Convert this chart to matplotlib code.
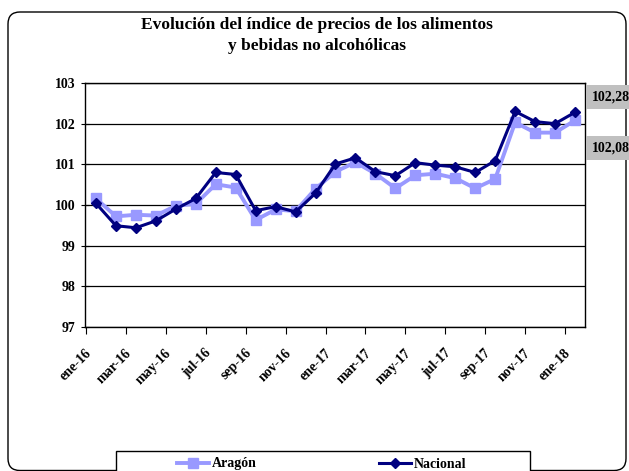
import matplotlib
matplotlib.use("Agg")
import matplotlib.pyplot as plt
from matplotlib.patches import FancyBboxPatch, Rectangle

# Datos (índice, base 2016 = 100)
months = ["ene-16", "feb-16", "mar-16", "abr-16", "may-16", "jun-16", "jul-16", "ago-16",
          "sep-16", "oct-16", "nov-16", "dic-16", "ene-17", "feb-17", "mar-17", "abr-17",
          "may-17", "jun-17", "jul-17", "ago-17", "sep-17", "oct-17", "nov-17", "dic-17",
          "ene-18"]
aragon = [100.16, 99.72, 99.76, 99.74, 99.98, 100.03, 100.51, 100.43, 99.63, 99.89,
          99.85, 100.40, 100.82, 101.05, 100.77, 100.41, 100.73, 100.77, 100.66, 100.41,
          100.64, 102.03, 101.78, 101.78, 102.08]
nacional = [100.04, 99.49, 99.44, 99.61, 99.90, 100.16, 100.80, 100.75, 99.86, 99.96,
            99.83, 100.29, 101.01, 101.16, 100.82, 100.72, 101.04, 100.98, 100.94, 100.80,
            101.09, 102.30, 102.05, 102.00, 102.28]
last_labels = ["102,28", "102,08"]

plt.rcParams['font.family'] = ['Liberation Serif', 'DejaVu Serif']
plt.rcParams['font.weight'] = 'bold'

fig = plt.figure(figsize=(6.29, 4.71), dpi=100)

# marco exterior redondeado
frame = FancyBboxPatch((0.08, 0.005), 6.18, 4.585,
                       boxstyle="round,pad=0,rounding_size=0.12",
                       transform=fig.dpi_scale_trans, facecolor='none',
                       edgecolor='black', linewidth=1.0, zorder=-1)
fig.patches.append(frame)

ax = fig.add_axes([85 / 629, 1 - 327 / 471, 500 / 629, 244 / 471])
ax.set_facecolor('white')
x = list(range(len(months)))

ax.plot(x, aragon, color='#9999FF', linewidth=2.8, marker='s', markersize=6.5,
        label='Aragón', zorder=3)
ax.plot(x, nacional, color='#000080', linewidth=2.2, marker='D', markersize=5,
        label='Nacional', zorder=4)

ax.set_xlim(-0.5, len(months) - 0.5)
ax.set_ylim(97, 103)
ax.set_yticks(range(97, 104))
ax.set_yticklabels([str(v) for v in range(97, 104)], fontsize=10, fontweight='bold')
ax.yaxis.grid(True, color='black', linewidth=0.9)
ax.set_axisbelow(True)

# marcas entre categorías, etiquetas cada dos meses (ancladas algo a la izquierda)
ax.set_xticks([i - 0.5 for i in range(0, len(months), 2)])
ax.set_xticklabels([])
ax.set_xticks([i - 0.55 for i in range(0, len(months), 2)], minor=True)
ax.set_xticklabels([months[i] for i in range(0, len(months), 2)], minor=True,
                   rotation=45, ha='right', rotation_mode='anchor',
                   fontsize=10, fontweight='bold')
ax.tick_params(axis='x', which='major', length=5, color='black')
ax.tick_params(axis='x', which='minor', length=0, pad=14)
ax.tick_params(axis='y', direction='inout', length=6, pad=4)
for s in ax.spines.values():
    s.set_color('black')
    s.set_linewidth(1.0)

fig.text(317 / 629, 1 - 25 / 471, "Evolución del índice de precios de los alimentos",
         ha='center', va='center', fontsize=12.5, fontweight='bold')
fig.text(317 / 629, 1 - 46 / 471, "y bebidas no alcohólicas",
         ha='center', va='center', fontsize=12.5, fontweight='bold')

# etiquetas del último dato
for lab, yp in zip(last_labels, [97, 148]):
    fig.text(592 / 629, 1 - yp / 471, lab, ha='left', va='center', fontsize=10,
             fontweight='bold',
             bbox=dict(facecolor='#c0c0c0', edgecolor='none', pad=4))

# leyenda (recortada por el borde inferior, como en el original)
fig.patches.append(Rectangle((116 / 629, -0.05), 414 / 629, (471 - 451) / 471 + 0.05,
                             transform=fig.transFigure, facecolor='white',
                             edgecolor='black', linewidth=1.0, zorder=2))
leg = fig.legend(loc='center left', bbox_to_anchor=(177 / 629, 1 - 464 / 471),
                 ncol=2, frameon=False, borderpad=0, borderaxespad=0,
                 handlelength=2.3, handletextpad=0.2, columnspacing=8.8,
                 prop={'weight': 'bold', 'size': 10})
leg.set_zorder(3)

fig.savefig("out.png", dpi=100)
